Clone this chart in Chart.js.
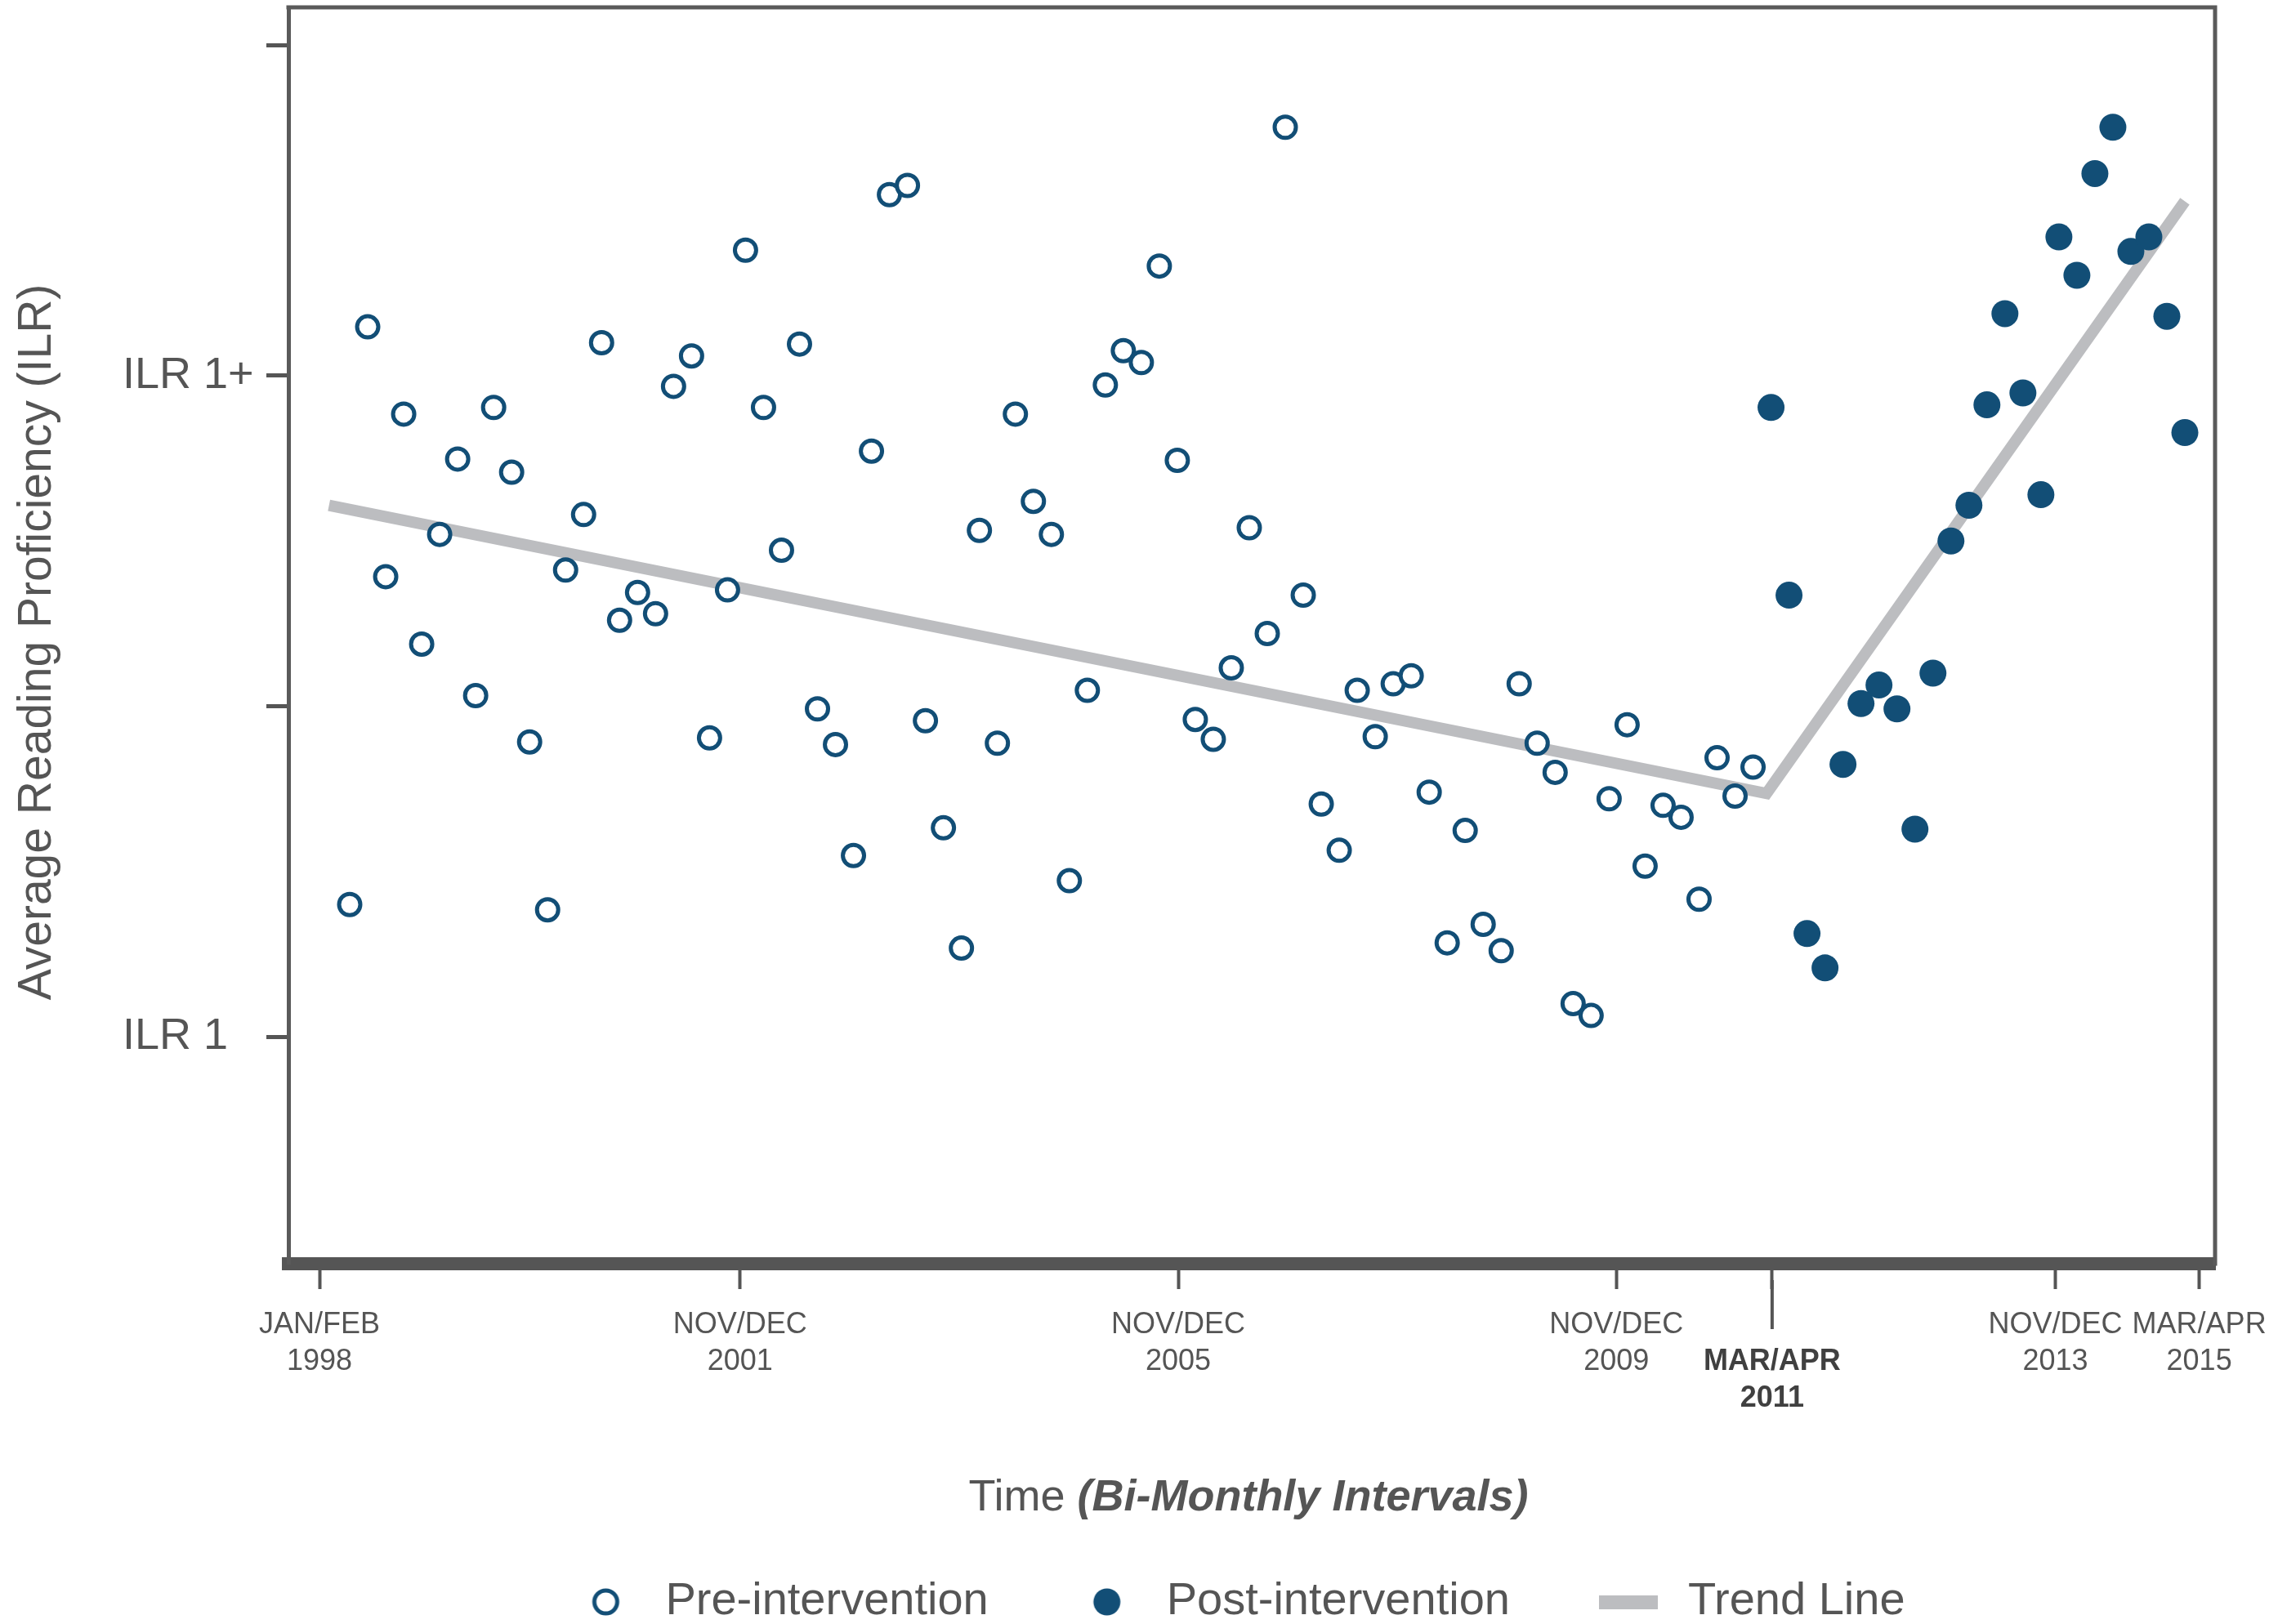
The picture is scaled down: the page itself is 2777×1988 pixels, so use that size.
<!DOCTYPE html>
<html>
<head>
<meta charset="utf-8">
<title>Average Reading Proficiency (ILR)</title>
<script src="https://cdn.jsdelivr.net/npm/chart.js@4/dist/chart.umd.min.js"></script>
<style>
  html, body { margin: 0; padding: 0; background: #fff; }
  #wrap { width: 2777px; height: 1988px; }
</style>
</head>
<body>
<div id="wrap"><canvas id="myChart" width="2777" height="1988"></canvas></div>
<script>
// one reading per bi-monthly interval, in order (ILR 1 = 1, ILR 1+ = 1.5)
const preValues = [
  1.100, 1.537, 1.348, 1.471, 1.297, 1.380, 1.437, 1.258, 1.476, 1.427,
  1.223, 1.096, 1.353, 1.395, 1.525, 1.315, 1.336, 1.320, 1.492, 1.515,
  1.226, 1.338, 1.595, 1.476, 1.368, 1.524, 1.248, 1.221, 1.137, 1.443,
  1.637, 1.644, 1.239, 1.158, 1.067, 1.383, 1.222, 1.471, 1.405, 1.380,
  1.118, 1.262, 1.493, 1.519, 1.510, 1.583, 1.436, 1.240, 1.225, 1.279,
  1.385, 1.305, 1.688, 1.334, 1.176, 1.141, 1.262, 1.227, 1.267, 1.273,
  1.185, 1.071, 1.156, 1.085, 1.065, 1.267, 1.222, 1.200, 1.025, 1.016,
  1.180, 1.236, 1.129, 1.175, 1.166, 1.104, 1.211, 1.182, 1.204
];
const postValues = [
  1.476, 1.334, 1.078, 1.052, 1.206, 1.252, 1.266, 1.248, 1.157, 1.275,
  1.375, 1.402, 1.478, 1.547, 1.487, 1.410, 1.605, 1.576, 1.653, 1.688,
  1.594, 1.605, 1.545, 1.457
];

// segmented trend: interval / level at start, break and end
const trendX = [-1.15, 78.75, 102];
const trendY = [1.402, 1.184, 1.632];

const xTickAt = [-1.68, 21.7, 46.05, 70.4, 79.06, 94.8, 102.8];
const xTickLabels = [
  ['JAN/FEB', '1998'], ['NOV/DEC', '2001'], ['NOV/DEC', '2005'], ['NOV/DEC', '2009'],
  ['', 'MAR/APR', '2011'], ['NOV/DEC', '2013'], ['MAR/APR', '2015']
];
const interventionTick = 4;

const yTickAt = [1, 1.25, 1.5, 1.75];
const yTickLabels = ['ILR 1', '', 'ILR 1+', ''];

const yTitle = 'Average Reading Proficiency (ILR)';
const xTitle = ['Time ', '(Bi-Monthly Intervals)'];

const blue = '#124e76';
const gray = '#555555';
const trendGray = '#bcbdc0';
const fontFamily = '"Liberation Sans", Arial, Helvetica, sans-serif';

function icon(w, h, draw) {
  const c = document.createElement('canvas');
  c.width = w;
  c.height = h;
  draw(c.getContext('2d'), w, h);
  return c;
}

const legendIcons = [
  icon(40, 40, g => {
    g.beginPath(); g.arc(20, 20, 14, 0, Math.PI * 2);
    g.fillStyle = '#fff'; g.fill();
    g.lineWidth = 5; g.strokeStyle = blue; g.stroke();
  }),
  icon(40, 40, g => {
    g.beginPath(); g.arc(20, 20, 16.5, 0, Math.PI * 2);
    g.fillStyle = blue; g.fill();
  }),
  icon(72, 17, (g, w, h) => {
    g.fillStyle = trendGray; g.fillRect(0, 0, w, h);
  })
];

// box around the plot, the long intervention tick and the axis titles
const decorations = {
  id: 'decorations',
  afterLayout(chart) {
    // nudge the legend row a little left and down
    const lg = chart.legend;
    lg.left -= 18; lg.right -= 18;
    lg.top += 11; lg.bottom += 11;
  },
  beforeDatasetsDraw(chart) {
    const {ctx, chartArea: a} = chart;
    ctx.save();
    ctx.strokeStyle = '#5a5a5a';
    ctx.lineWidth = 5;
    ctx.lineCap = 'square';
    ctx.lineJoin = 'miter';
    ctx.beginPath();
    ctx.moveTo(a.left, a.top);
    ctx.lineTo(a.right, a.top);
    ctx.lineTo(a.right, a.bottom);
    ctx.stroke();
    ctx.restore();
  },
  afterDraw(chart) {
    const {ctx, chartArea: a, scales: {x}} = chart;
    ctx.save();

    const px = x.getPixelForValue(xTickAt[interventionTick]);
    ctx.strokeStyle = gray;
    ctx.lineWidth = 4;
    ctx.beginPath();
    ctx.moveTo(px, a.bottom + 20);
    ctx.lineTo(px, a.bottom + 80);
    ctx.stroke();

    ctx.fillStyle = gray;
    ctx.save();
    ctx.font = '57px ' + fontFamily;
    ctx.textAlign = 'center';
    ctx.textBaseline = 'middle';
    ctx.translate(46, (a.top + a.bottom) / 2 + 8);
    ctx.rotate(-Math.PI / 2);
    ctx.fillText(yTitle, 0, 0);
    ctx.restore();

    const plain = '54px ' + fontFamily;
    const strong = 'italic bold 54px ' + fontFamily;
    ctx.font = plain;
    const w1 = ctx.measureText(xTitle[0]).width;
    ctx.font = strong;
    const w2 = ctx.measureText(xTitle[1]).width;
    const sx = (a.left + a.right) / 2 - 4 - (w1 + w2) / 2;
    const ty = a.bottom + 302;
    ctx.textAlign = 'left';
    ctx.textBaseline = 'alphabetic';
    ctx.font = plain;
    ctx.fillText(xTitle[0], sx, ty);
    ctx.font = strong;
    ctx.fillText(xTitle[1], sx + w1, ty);

    ctx.restore();
  }
};

Chart.defaults.font.family = fontFamily;
Chart.defaults.color = gray;

const ctx = document.getElementById('myChart');

new Chart(ctx, {
  type: 'scatter',
  data: {
    datasets: [
      {
        label: 'Pre-intervention',
        data: preValues.map((v, i) => ({x: i, y: v})),
        pointStyle: 'circle',
        pointRadius: 13,
        pointBorderWidth: 5,
        pointBackgroundColor: '#fff',
        pointBorderColor: blue,
        backgroundColor: '#fff',
        borderColor: blue
      },
      {
        label: 'Post-intervention',
        data: postValues.map((v, i) => ({x: preValues.length + i, y: v})),
        pointStyle: 'circle',
        pointRadius: 16.5,
        pointBorderWidth: 0,
        pointBackgroundColor: blue,
        pointBorderColor: blue,
        backgroundColor: blue,
        borderColor: blue
      },
      {
        label: 'Trend Line',
        type: 'line',
        data: trendX.map((v, i) => ({x: v, y: trendY[i]})),
        borderColor: trendGray,
        backgroundColor: trendGray,
        borderWidth: 14,
        borderJoinStyle: 'miter',
        borderCapStyle: 'butt',
        pointRadius: 0,
        fill: false,
        tension: 0
      }
    ]
  },
  options: {
    responsive: false,
    animation: false,
    events: [],
    layout: {
      autoPadding: false,
      padding: {left: 150, right: 66, top: 9, bottom: 0}
    },
    scales: {
      x: {
        type: 'linear',
        min: -3.406,
        max: 103.68,
        afterBuildTicks: s => { s.ticks = xTickAt.map(v => ({value: v})); },
        afterFit: s => { s.height = 275; s.paddingLeft = 0; s.paddingRight = 0; },
        grid: {drawOnChartArea: false, drawTicks: true, tickLength: 31, tickWidth: 4, tickColor: gray},
        border: {display: true, width: 16, color: '#555'},
        ticks: {
          autoSkip: false,
          maxRotation: 0,
          minRotation: 0,
          padding: 22,
          color: c => c.index === interventionTick ? '#404040' : gray,
          font: c => ({size: 36, lineHeight: 1.25, weight: c.index === interventionTick ? 'bold' : 'normal'}),
          callback: (v, i) => xTickLabels[i]
        }
      },
      y: {
        min: 0.8282,
        max: 1.7787,
        afterBuildTicks: s => { s.ticks = yTickAt.map(v => ({value: v})); },
        afterFit: s => { s.width = 203; s.paddingTop = 0; s.paddingBottom = 0; },
        grid: {drawOnChartArea: false, drawTicks: true, tickLength: 27, tickWidth: 5, tickColor: gray},
        border: {display: true, width: 5, color: '#5a5a5a'},
        ticks: {
          crossAlign: 'far',
          padding: 0,
          color: gray,
          font: {size: 54},
          callback: (v, i) => yTickLabels[i]
        }
      }
    },
    plugins: {
      legend: {
        position: 'bottom',
        fullSize: false,
        labels: {
          usePointStyle: true,
          pointStyleWidth: 90,
          padding: 100,
          color: gray,
          font: {size: 56},
          generateLabels: chart => Chart.defaults.plugins.legend.labels.generateLabels(chart)
            .map((item, i) => Object.assign(item, {pointStyle: legendIcons[i]}))
        }
      },
      tooltip: {enabled: false}
    }
  },
  plugins: [decorations]
});
</script>
</body>
</html>
